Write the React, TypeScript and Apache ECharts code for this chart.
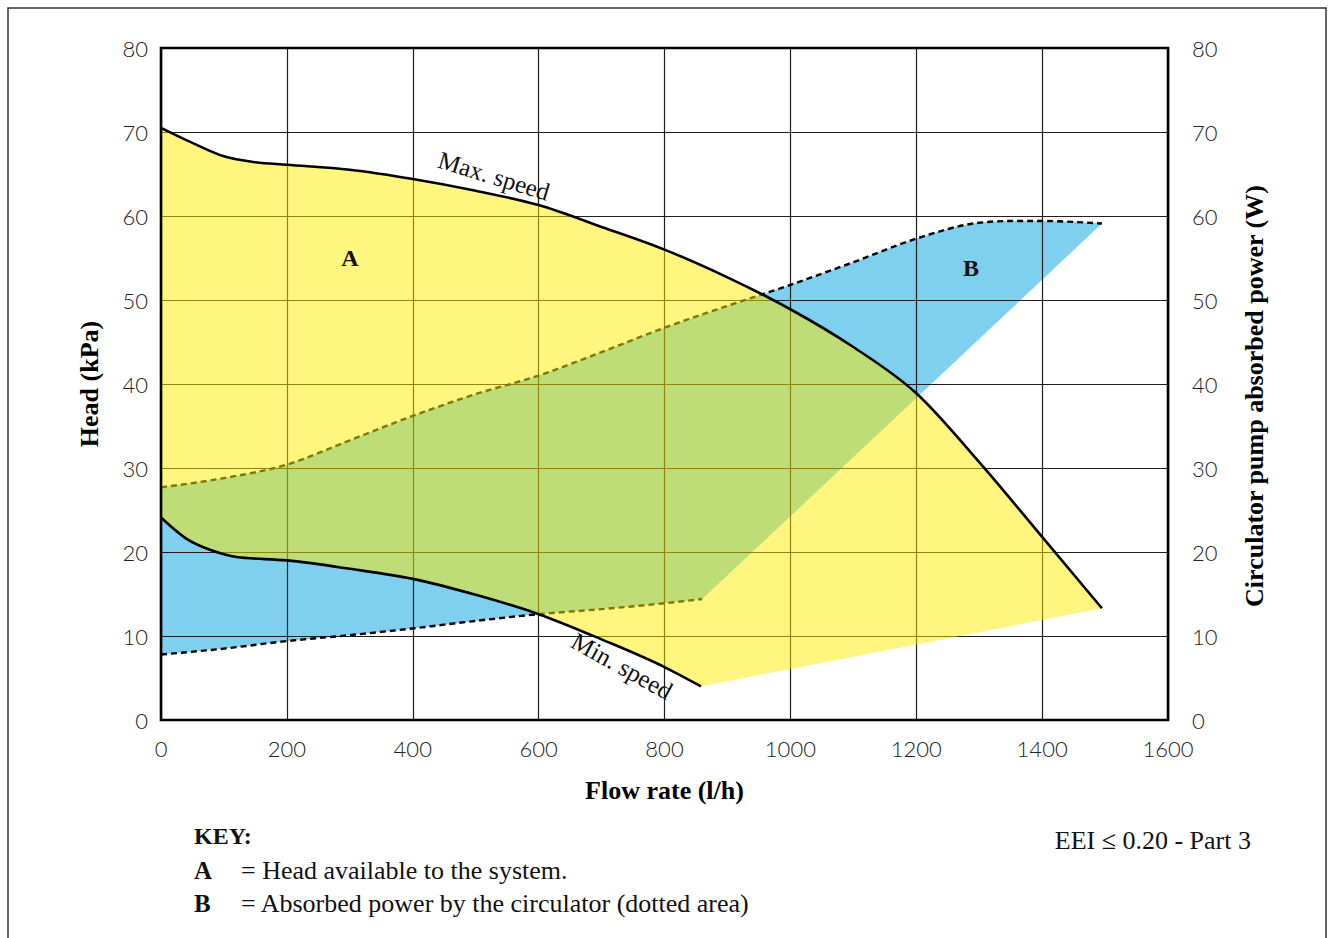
import React, { useEffect, useRef } from 'react';
import * as echarts from 'echarts';

// ---- data ----
const maxSpeedFlow = [0, 50, 100, 150, 200, 300, 400, 500, 600, 700, 800, 900, 1000, 1100, 1200, 1300, 1400, 1495];
const maxSpeedHead = [70.5, 68.7, 67.1, 66.4, 66.1, 65.5, 64.4, 63.0, 61.3, 58.7, 56.0, 52.7, 48.9, 44.4, 38.9, 30.7, 21.8, 13.3];

const minSpeedFlow = [0, 40, 80, 120, 200, 300, 400, 500, 600, 700, 800, 858];
const minSpeedHead = [24.1, 21.6, 20.2, 19.4, 19.0, 18.0, 16.8, 14.9, 12.6, 9.6, 6.3, 4.0];

const powerUpperFlow = [0, 100, 200, 300, 400, 500, 600, 700, 800, 900, 1000, 1100, 1200, 1300, 1350, 1400, 1495];
const powerUpperW = [27.7, 28.8, 30.4, 33.3, 36.2, 38.8, 41.0, 43.8, 46.7, 49.3, 51.8, 54.5, 57.3, 59.2, 59.4, 59.4, 59.1];

const powerLowerFlow = [0, 100, 200, 300, 400, 500, 600, 700, 800, 860];
const powerLowerW = [7.8, 8.5, 9.4, 10.1, 10.9, 11.8, 12.6, 13.2, 13.9, 14.4];

const flowTicks = { min: 0, max: 1600, interval: 200 };
const headTicks = { min: 0, max: 80, interval: 10 };
const powerTicks = { min: 0, max: 80, interval: 10 };

// ---- helpers: monotone-x cubic segments in pixel space ----
type P = number[];
function monoSegments(pts: P[]): P[][] {
  const n = pts.length;
  const s: number[] = [];
  for (let i = 0; i < n - 1; i++) {
    s[i] = (pts[i + 1][1] - pts[i][1]) / (pts[i + 1][0] - pts[i][0]);
  }
  const t: number[] = new Array(n).fill(0);
  for (let i = 1; i < n - 1; i++) {
    const h0 = pts[i][0] - pts[i - 1][0];
    const h1 = pts[i + 1][0] - pts[i][0];
    const s0 = s[i - 1];
    const s1 = s[i];
    const p = (s0 * h1 + s1 * h0) / (h0 + h1);
    t[i] = (Math.sign(s0) + Math.sign(s1)) * Math.min(Math.abs(s0), Math.abs(s1), 0.5 * Math.abs(p)) || 0;
  }
  if (n > 2) {
    t[0] = (3 * s[0] - t[1]) / 2;
    t[n - 1] = (3 * s[n - 2] - t[n - 2]) / 2;
  } else {
    t[0] = s[0];
    t[n - 1] = s[0];
  }
  const segs: P[][] = [];
  for (let i = 0; i < n - 1; i++) {
    const [x0, y0] = pts[i];
    const [x1, y1] = pts[i + 1];
    const dx = (x1 - x0) / 3;
    segs.push([[x0, y0], [x0 + dx, y0 + dx * t[i]], [x1 - dx, y1 - dx * t[i + 1]], [x1, y1]]);
  }
  return segs;
}
const f = (v: number) => v.toFixed(2);
function forwardPath(pts: P[], move: boolean): string {
  const segs = monoSegments(pts);
  let d = move ? `M${f(pts[0][0])} ${f(pts[0][1])}` : `L${f(pts[0][0])} ${f(pts[0][1])}`;
  for (const sg of segs) {
    d += ` C${f(sg[1][0])} ${f(sg[1][1])} ${f(sg[2][0])} ${f(sg[2][1])} ${f(sg[3][0])} ${f(sg[3][1])}`;
  }
  return d;
}
function reversePath(pts: P[]): string {
  const segs = monoSegments(pts);
  const last = pts[pts.length - 1];
  let d = ` L${f(last[0])} ${f(last[1])}`;
  for (let i = segs.length - 1; i >= 0; i--) {
    const sg = segs[i];
    d += ` C${f(sg[2][0])} ${f(sg[2][1])} ${f(sg[1][0])} ${f(sg[1][1])} ${f(sg[0][0])} ${f(sg[0][1])}`;
  }
  return d;
}
const toPts = (api: any, xs: number[], ys: number[]) => xs.map((x, i) => api.coord([x, ys[i]]));
const pairs = (xs: number[], ys: number[]) => xs.map((x, i) => [x, ys[i]]);

const serifFont = '"Liberation Serif", "DejaVu Serif", serif';
const tickFont = 'Lato, "Noto Sans", sans-serif';

export default function App() {
  const ref = useRef<HTMLDivElement>(null);
  useEffect(() => {
    if (!ref.current) return;
    const chart = echarts.init(ref.current, null, { renderer: 'svg' });

    const lineSeries = (name: string, xs: number[], ys: number[], yAxisIndex: number, z: number, dashed: boolean) => ({
      type: 'custom',
      name,
      coordinateSystem: 'cartesian2d',
      xAxisIndex: 0,
      yAxisIndex,
      z,
      silent: true,
      clip: false,
      data: pairs(xs, ys),
      renderItem: (params: any, api: any) => {
        if (params.dataIndex !== 0) return null;
        const d = forwardPath(toPts(api, xs, ys), true);
        return {
          type: 'path',
          shape: { pathData: d },
          style: {
            fill: 'none',
            stroke: '#000',
            lineWidth: dashed ? 2.4 : 2.6,
            lineDash: dashed ? [6, 4] : null,
          },
        };
      },
    });

    const labelStyle = (margin: number) => ({
      margin,
      fontSize: 22,
      fontFamily: tickFont,
      fontWeight: 300,
      color: '#222',
      formatter: (v: number) => String(v),
    });
    const titleStyle = { fontFamily: serifFont, fontWeight: 'bold', fontSize: 26, color: '#000' };

    const option: any = {
      animation: false,
      backgroundColor: '#ffffff',
      grid: {
        left: 161,
        right: 165,
        top: 48,
        bottom: 218,
        show: true,
        borderColor: '#000',
        borderWidth: 2.6,
        backgroundColor: 'transparent',
        z: 10,
      },
      xAxis: {
        type: 'value',
        min: flowTicks.min,
        max: flowTicks.max,
        interval: flowTicks.interval,
        z: 3,
        axisLine: { show: false },
        axisTick: { show: false },
        splitLine: { show: true, lineStyle: { color: '#1e1e1e', width: 1.2 } },
        axisLabel: labelStyle(17),
        name: 'Flow rate (l/h)',
        nameLocation: 'middle',
        nameGap: 57,
        nameTextStyle: titleStyle,
      },
      yAxis: [
        {
          type: 'value',
          position: 'left',
          min: headTicks.min,
          max: headTicks.max,
          interval: headTicks.interval,
          z: 3,
          axisLine: { show: false },
          axisTick: { show: false },
          splitLine: { show: true, lineStyle: { color: '#1e1e1e', width: 1.2 } },
          axisLabel: labelStyle(13),
          name: 'Head (kPa)',
          nameLocation: 'middle',
          nameGap: 59,
          nameTextStyle: titleStyle,
        },
        {
          type: 'value',
          position: 'right',
          min: powerTicks.min,
          max: powerTicks.max,
          interval: powerTicks.interval,
          z: 3,
          axisLine: { show: false },
          axisTick: { show: false },
          splitLine: { show: false },
          axisLabel: labelStyle(24),
          name: 'Circulator pump absorbed power (W)',
          nameLocation: 'middle',
          nameGap: 73,
          nameTextStyle: { ...titleStyle, padding: [0, 24, 0, 0] },
        },
      ],
      series: [
        {
          type: 'custom',
          name: 'B',
          coordinateSystem: 'cartesian2d',
          xAxisIndex: 0,
          yAxisIndex: 1,
          z: 2,
          silent: true,
          clip: false,
          data: pairs(powerUpperFlow, powerUpperW),
          renderItem: (params: any, api: any) => {
            if (params.dataIndex !== 0) return null;
            const up = toPts(api, powerUpperFlow, powerUpperW);
            const lo = toPts(api, powerLowerFlow, powerLowerW);
            const d = forwardPath(up, true) + reversePath(lo) + ' Z';
            return { type: 'path', shape: { pathData: d }, style: { fill: '#7fcfef', stroke: 'none' } };
          },
        },
        lineSeries('Power max', powerUpperFlow, powerUpperW, 1, 4, true),
        lineSeries('Power min', powerLowerFlow, powerLowerW, 1, 4, true),
        {
          type: 'custom',
          name: 'A',
          coordinateSystem: 'cartesian2d',
          xAxisIndex: 0,
          yAxisIndex: 0,
          z: 5,
          silent: true,
          clip: false,
          data: pairs(maxSpeedFlow, maxSpeedHead),
          renderItem: (params: any, api: any) => {
            if (params.dataIndex !== 0) return null;
            const top = toPts(api, maxSpeedFlow, maxSpeedHead);
            const bot = toPts(api, minSpeedFlow, minSpeedHead);
            const d = forwardPath(top, true) + reversePath(bot) + ' Z';
            return { type: 'path', shape: { pathData: d }, style: { fill: 'rgba(255,235,0,0.5)', stroke: 'none' } };
          },
        },
        lineSeries('Max. speed', maxSpeedFlow, maxSpeedHead, 0, 6, false),
        lineSeries('Min. speed', minSpeedFlow, minSpeedHead, 0, 6, false),
      ],
      graphic: [
        {
          type: 'rect',
          shape: { x: 8, y: 8, width: 1318, height: 945 },
          style: { fill: 'none', stroke: '#333', lineWidth: 1.5 },
          silent: true,
          z: 0,
        },
        {
          type: 'text',
          x: 494,
          y: 176,
          rotation: (-17 * Math.PI) / 180,
          style: { text: 'Max. speed', fontFamily: serifFont, fontSize: 25, fill: '#111', align: 'center', verticalAlign: 'middle', textAlign: 'center', textVerticalAlign: 'middle' },
          z: 20,
        },
        {
          type: 'text',
          x: 622,
          y: 666,
          rotation: (-29 * Math.PI) / 180,
          style: { text: 'Min. speed', fontFamily: serifFont, fontSize: 25, fill: '#111', align: 'center', verticalAlign: 'middle', textAlign: 'center', textVerticalAlign: 'middle' },
          z: 20,
        },
        {
          type: 'text',
          x: 350,
          y: 258,
          style: { text: 'A', fontFamily: serifFont, fontWeight: 'bold', fontSize: 24, fill: '#111', align: 'center', verticalAlign: 'middle', textAlign: 'center', textVerticalAlign: 'middle' },
          z: 20,
        },
        {
          type: 'text',
          x: 971,
          y: 268,
          style: { text: 'B', fontFamily: serifFont, fontWeight: 'bold', fontSize: 24, fill: '#111', align: 'center', verticalAlign: 'middle', textAlign: 'center', textVerticalAlign: 'middle' },
          z: 20,
        },
        {
          type: 'text',
          x: 194,
          y: 836,
          style: { text: 'KEY:', fontFamily: serifFont, fontWeight: 'bold', fontSize: 24, fill: '#111', align: 'left', verticalAlign: 'middle', textAlign: 'left', textVerticalAlign: 'middle' },
          z: 20,
        },
        {
          type: 'text',
          x: 194,
          y: 870,
          style: { text: 'A', fontFamily: serifFont, fontWeight: 'bold', fontSize: 25, fill: '#111', align: 'left', verticalAlign: 'middle', textAlign: 'left', textVerticalAlign: 'middle' },
          z: 20,
        },
        {
          type: 'text',
          x: 241,
          y: 870,
          style: { text: '= Head available to the system.', fontFamily: serifFont, fontSize: 26, fill: '#111', align: 'left', verticalAlign: 'middle', textAlign: 'left', textVerticalAlign: 'middle' },
          z: 20,
        },
        {
          type: 'text',
          x: 194,
          y: 903,
          style: { text: 'B', fontFamily: serifFont, fontWeight: 'bold', fontSize: 25, fill: '#111', align: 'left', verticalAlign: 'middle', textAlign: 'left', textVerticalAlign: 'middle' },
          z: 20,
        },
        {
          type: 'text',
          x: 241,
          y: 903,
          style: { text: '= Absorbed power by the circulator (dotted area)', fontFamily: serifFont, fontSize: 26, fill: '#111', align: 'left', verticalAlign: 'middle', textAlign: 'left', textVerticalAlign: 'middle' },
          z: 20,
        },
        {
          type: 'text',
          x: 1251,
          y: 840,
          style: { text: 'EEI ≤ 0.20 - Part 3', fontFamily: serifFont, fontSize: 26, fill: '#111', align: 'right', verticalAlign: 'middle', textAlign: 'right', textVerticalAlign: 'middle' },
          z: 20,
        },
      ],
    };
    chart.setOption(option);
    return () => chart.dispose();
  }, []);

  return (
    <div
      ref={ref}
      style={{ position: 'fixed', left: 0, top: 0, width: 1333, height: 938, background: '#fff' }}
    />
  );
}
